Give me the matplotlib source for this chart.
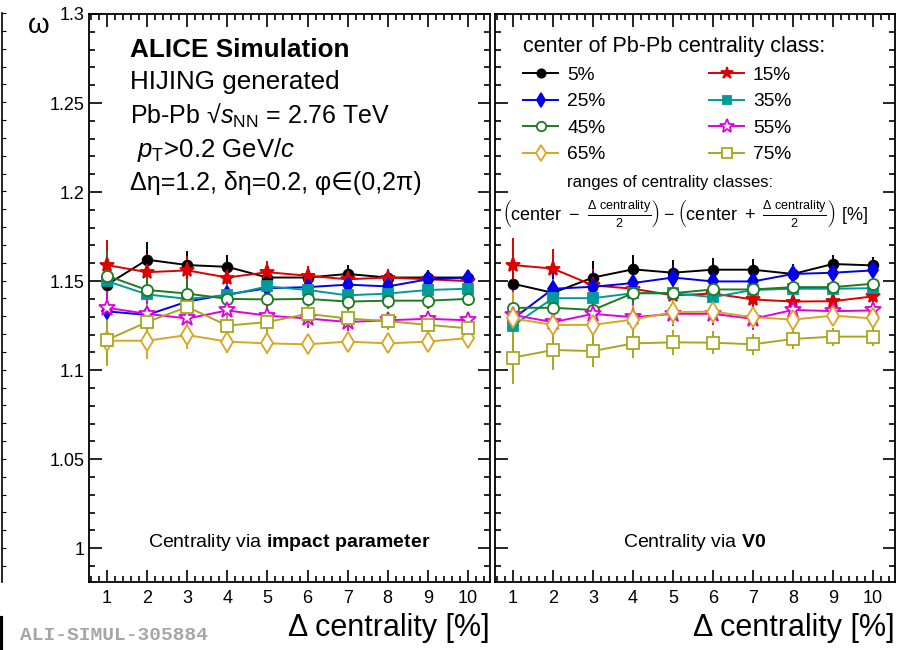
import numpy as np
import matplotlib
matplotlib.use("Agg")
import matplotlib.pyplot as plt
from matplotlib.ticker import MultipleLocator, FuncFormatter
from matplotlib.lines import Line2D

plt.rcParams['font.family'] = ['Liberation Sans', 'DejaVu Sans']
plt.rcParams['mathtext.fontset'] = 'custom'
plt.rcParams['mathtext.rm'] = 'Liberation Sans'
plt.rcParams['mathtext.it'] = 'Liberation Sans:italic'
plt.rcParams['mathtext.bf'] = 'Liberation Sans:bold'

# delta centrality bins [%]
dcent = [1, 2, 3, 4, 5, 6, 7, 8, 9, 10]
classes = ['5%', '15%', '25%', '35%', '45%', '55%', '65%', '75%']

# omega, centrality from impact parameter
omega_b = {
    '5%':  [1.148, 1.162, 1.159, 1.158, 1.152, 1.152, 1.154, 1.152, 1.152, 1.152],
    '15%': [1.159, 1.155, 1.156, 1.152, 1.155, 1.153, 1.151, 1.152, 1.151, 1.150],
    '25%': [1.133, 1.131, 1.1385, 1.1425, 1.146, 1.1466, 1.148, 1.147, 1.151, 1.152],
    '35%': [1.150, 1.1425, 1.140, 1.142, 1.147, 1.145, 1.142, 1.143, 1.145, 1.1457],
    '45%': [1.153, 1.145, 1.143, 1.140, 1.1397, 1.140, 1.1385, 1.139, 1.139, 1.140],
    '55%': [1.135, 1.1316, 1.129, 1.1335, 1.1306, 1.129, 1.127, 1.128, 1.1288, 1.128],
    '65%': [1.1165, 1.1165, 1.1197, 1.116, 1.115, 1.1145, 1.116, 1.115, 1.116, 1.118],
    '75%': [1.117, 1.127, 1.1355, 1.125, 1.127, 1.1316, 1.129, 1.1275, 1.1254, 1.1235],
}
err_b = [0.014, 0.010, 0.008, 0.0066, 0.006, 0.0055, 0.005, 0.0047, 0.0045, 0.0042]

# omega, centrality from V0
omega_v0 = {
    '5%':  [1.1485, 1.1434, 1.152, 1.1566, 1.1547, 1.1564, 1.1564, 1.154, 1.1596, 1.1588],
    '15%': [1.159, 1.157, 1.1476, 1.1457, 1.142, 1.143, 1.1397, 1.1385, 1.1387, 1.1414],
    '25%': [1.1288, 1.1457, 1.1468, 1.1489, 1.152, 1.1498, 1.1498, 1.154, 1.1547, 1.156],
    '35%': [1.125, 1.1404, 1.1404, 1.1432, 1.1432, 1.141, 1.145, 1.1457, 1.1457, 1.146],
    '45%': [1.135, 1.135, 1.1338, 1.1432, 1.1432, 1.1453, 1.1453, 1.1466, 1.1466, 1.1485],
    '55%': [1.131, 1.1269, 1.1316, 1.1297, 1.1316, 1.1316, 1.1288, 1.1338, 1.1331, 1.1335],
    '65%': [1.129, 1.1254, 1.1254, 1.1284, 1.1325, 1.1329, 1.1297, 1.1284, 1.1306, 1.129],
    '75%': [1.107, 1.1113, 1.1107, 1.115, 1.1156, 1.1154, 1.1145, 1.1175, 1.1188, 1.1188],
}
err_v0 = [0.015, 0.011, 0.009, 0.008, 0.007, 0.0065, 0.006, 0.0055, 0.005, 0.005]

style = {
    '5%':  dict(color='black', marker='o', ms=7, mfc='black'),
    '15%': dict(color='#dd0000', marker='*', ms=11, mfc='#dd0000'),
    '25%': dict(color='#0000ee', marker='d', ms=8, mfc='#0000ee'),
    '35%': dict(color='#009a9a', marker='s', ms=7, mfc='#009a9a'),
    '45%': dict(color='#1e7b1e', marker='o', ms=8, mfc='white'),
    '55%': dict(color='#e000e0', marker='*', ms=12, mfc='white'),
    '65%': dict(color='#daa520', marker='d', ms=10, mfc='white'),
    '75%': dict(color='#a8a820', marker='s', ms=9, mfc='white'),
}

fig = plt.figure(figsize=(8.97, 6.5), dpi=100)
y0, h = 1 - 582 / 650, (582 - 14) / 650
ax1 = fig.add_axes([89 / 897, y0, 401 / 897, h])
ax2 = fig.add_axes([495 / 897, y0, 400 / 897, h])

for ax, data, err in [(ax1, omega_b, err_b), (ax2, omega_v0, err_v0)]:
    for c in classes:
        s = style[c]
        ax.errorbar(dcent, data[c], yerr=err, color=s['color'], marker=s['marker'],
                    ms=s['ms'], mfc=s['mfc'], mec=s['color'], mew=1.3, lw=1.4,
                    elinewidth=1.4, capsize=0, label=c)

    ax.set_xlim(0.55, 10.55)
    ax.set_ylim(0.981, 1.3)
    ax.xaxis.set_major_locator(MultipleLocator(1))
    ax.xaxis.set_minor_locator(MultipleLocator(0.2))
    ax.yaxis.set_major_locator(MultipleLocator(0.05))
    ax.yaxis.set_minor_locator(MultipleLocator(0.01))
    ax.tick_params(which='both', direction='in', top=True, right=True, width=1.2)
    ax.tick_params(which='major', length=9, labelsize=13)
    ax.tick_params(which='minor', length=4.5)
    ax.tick_params(axis='x', pad=6)
    for sp in ax.spines.values():
        sp.set_linewidth(1.3)
    ax.set_xlabel('Δ centrality [%]', fontsize=22, loc='right', labelpad=4)

ax1.yaxis.set_major_formatter(FuncFormatter(lambda v, p: '%g' % round(v, 3)))
ax2.tick_params(axis='y', labelleft=False)

fig.text(28 / 897, 1 - 26 / 650, 'ω', fontsize=20, ha='left', va='center')

# left panel header
tx = 130 / 897
fig.text(tx, 1 - 50 / 650, 'ALICE Simulation', fontsize=18.8, fontweight='bold', va='center')
fig.text(tx, 1 - 82 / 650, 'HIJING generated', fontsize=18.7, va='center')
fig.text(tx, 1 - 116 / 650, 'Pb-Pb √' + r'$s_{\rm NN}$ = 2.76 TeV', fontsize=18, va='center')
fig.text(137 / 897, 1 - 150 / 650, r'$p_{\rm T}$>0.2 GeV/$c$', fontsize=18.5, va='center')
fig.text(tx, 1 - 183 / 650, 'Δη=1.2, δη=0.2, φ∈(0,2π)', fontsize=18, va='center')

ax1.text(0.5, 0.07, r'Centrality via $\bf{impact\ parameter}$', transform=ax1.transAxes,
         ha='center', va='center', fontsize=14)
ax2.text(0.5, 0.07, r'Centrality via $\bf{V0}$', transform=ax2.transAxes,
         ha='center', va='center', fontsize=14)

order = ['5%', '25%', '45%', '65%', '15%', '35%', '55%', '75%']
leg_handles = [Line2D([], [], color=style[c]['color'], marker=style[c]['marker'],
                      ms=style[c]['ms'] * 0.85, mfc=style[c]['mfc'], mec=style[c]['color'],
                      mew=1.3, lw=1.4) for c in order]
leg = ax2.legend(leg_handles, order, ncol=2, loc='upper left',
                 bbox_to_anchor=(523 / 897, 1 - 36 / 650), bbox_transform=fig.transFigure,
                 title='center of Pb-Pb centrality class:', title_fontsize=15.5, fontsize=13.8,
                 frameon=False, alignment='left', handlelength=1.85, handletextpad=0.45,
                 columnspacing=5.4, labelspacing=0.48, borderaxespad=0, borderpad=0)

fig.text(670 / 897, 1 - 183 / 650, 'ranges of centrality classes:', fontsize=12,
         ha='center', va='center')
fig.text(502 / 897, 1 - 214 / 650,
         r'$\left(\mathrm{center\ -\ }\frac{\Delta\ \mathrm{centrality}}{2}\right)'
         r' - \left(\mathrm{center\ +\ }\frac{\Delta\ \mathrm{centrality}}{2}\right)$ [%]',
         fontsize=13, ha='left', va='center')

# leftover edge of neighbouring pad
axe = fig.add_axes([-0.2, y0, 0.2 + 2 / 897, h + 1 / 650])
axe.set_ylim(0.981, 1.3)
axe.yaxis.set_minor_locator(MultipleLocator(0.01))
axe.yaxis.set_major_locator(MultipleLocator(0.01))
for k in ['top', 'bottom', 'left']:
    axe.spines[k].set_visible(False)
axe.spines['right'].set_linewidth(1.2)
axe.set_xticks([])
axe.tick_params(axis='y', left=False, right=True, direction='out', length=3,
                labelleft=False, which='both')
fig.add_artist(Line2D([1 / 897, 1 / 897], [0, 32 / 650], color='black', lw=3))

fig.text(20 / 897, 1 - 636 / 650, 'ALI-SIMUL-305884', fontsize=14, fontweight='bold',
         family='Liberation Mono', color='#a6a6a6', ha='left', va='center')

fig.savefig('out.png', dpi=100)
